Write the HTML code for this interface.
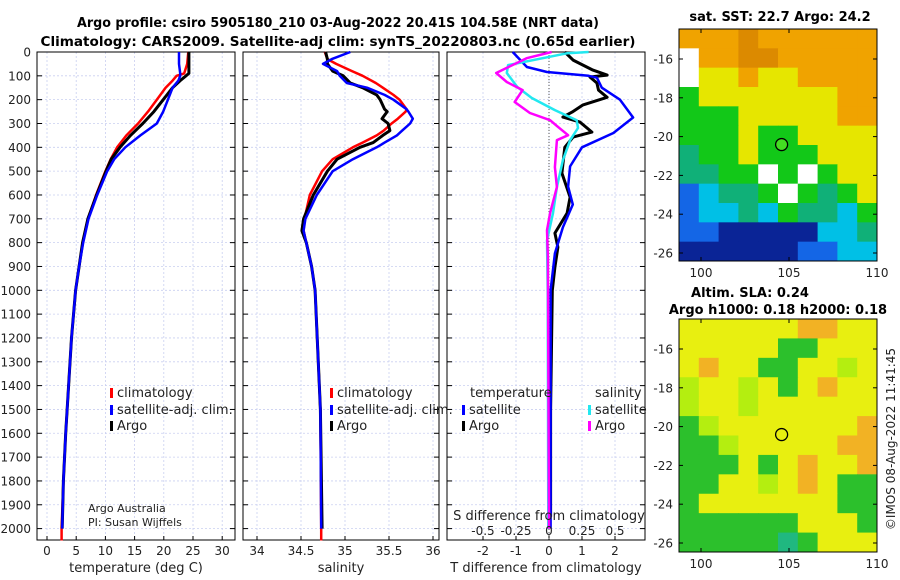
<!DOCTYPE html>
<html><head><meta charset="utf-8"><style>
html,body{margin:0;padding:0;background:#fff;width:900px;height:580px;overflow:hidden}
svg{display:block;font-family:"DejaVu Sans","Liberation Sans",sans-serif}
</style></head><body>
<svg id="fig" width="900" height="580" viewBox="0 0 900 580" xmlns="http://www.w3.org/2000/svg">
<g font-weight="bold" font-size="13" text-anchor="middle" fill="#000">
<text x="338" y="27" textLength="522" lengthAdjust="spacingAndGlyphs">Argo profile: csiro 5905180_210 03-Aug-2022 20.41S 104.58E (NRT data)</text>
<text x="338" y="46" textLength="595" lengthAdjust="spacingAndGlyphs">Climatology: CARS2009. Satellite-adj clim: synTS_20220803.nc (0.65d earlier)</text>
</g>
<g id="layer"></g>
</svg>
<script>
// ---------- data ----------
const depthT = [0,50,90,100,120,150,200,250,300,350,400,450,500,600,700,800,900,1000,1200,1400,1600,1800,2000];
const tClim  = [24.2,24,23.5,22.2,21.5,20.3,18.8,17.3,15.6,13.6,12,10.9,10,8.4,7,6.1,5.5,4.9,4.2,3.7,3.2,2.8,2.5];
const tSat   = [22.6,22.6,22.8,22.8,22.5,21.5,20.7,19.9,18.8,16,13.4,11.5,10.3,8.6,7.1,6.2,5.5,4.9,4.2,3.7,3.2,2.8,2.6];
const tArgo  = [24.3,24.3,24.3,23.8,22.8,21.5,19.9,18.3,16.4,14.3,12.5,11,10.1,8.5,7,6.1,5.5,4.9,4.2,3.7,3.2,2.8,2.6];
const depthS = [0,30,50,80,100,130,150,180,200,240,250,280,300,330,350,380,400,450,500,600,700,750,800,900,1000,1500,2000];
const sClim  = [34.77,34.8,34.9,35.08,35.2,35.35,35.43,35.55,35.62,35.7,35.69,35.6,35.53,35.44,35.36,35.2,35.09,34.86,34.74,34.6,34.54,34.53,34.56,34.62,34.66,34.72,34.73];
const sSat   = [35.06,34.85,34.75,34.91,34.94,35.02,35.25,35.45,35.55,35.7,35.72,35.77,35.74,35.65,35.59,35.45,35.36,35.09,34.86,34.68,34.55,34.53,34.56,34.62,34.66,34.72,34.73];
const sArgo  = [34.78,34.8,34.8,34.86,34.98,35.06,35.2,35.36,35.4,35.45,35.48,35.42,35.49,35.51,35.43,35.32,35.17,34.91,34.8,34.64,34.53,34.51,34.56,34.62,34.66,34.72,34.74];
const depthDTsat = [0,63,84,100,108,150,200,275,340,400,480,565,640,735,845,1000,2000];
const dTsat      = [-1.1,-0.67,-0.06,1.2,1.45,1.6,2.15,2.55,1.95,1.0,0.64,0.58,0.72,0.42,0.18,0.05,0.05];
const depthDTargo = [0,34,76,97,105,130,160,190,222,252,273,294,336,357,400,508,609,676,760,819,903,1000,1500,1950];
const dTargo      = [0.48,0.73,1.33,1.76,1.24,1.45,1.5,1.76,1.03,0.7,0.42,0.94,1.3,0.73,0.48,0.39,0.64,0.55,0.18,0.27,0.18,0.1,0.05,0.05];
const depthDSsat = [0,5,55,88,147,193,244,286,319,370,454,567,676,790,1000,2000];
const dSsat      = [0.3,0.14,-0.31,-0.32,-0.24,-0.13,0.045,0.21,0.22,0.16,0.105,0.06,0.03,-0.015,-0.01,-0.005];
const depthDSargo = [0,26,88,126,160,210,256,286,315,349,370,483,567,676,748,861,2000];
const dSargo      = [0.02,-0.17,-0.4,-0.32,-0.2,-0.26,-0.145,0.008,0.07,0.145,0.06,0.045,0.06,0.008,-0.015,-0.008,0.0];
const depthTicks = [0,100,200,300,400,500,600,700,800,900,1000,1100,1200,1300,1400,1500,1600,1700,1800,1900,2000];
const tTicks = [0,5,10,15,20,25,30];
const sTicks = [34,34.5,35,35.5,36];
const sTickLabels = ["34","34.5","35","35.5","36"];
const dTticks = [-2,-1,0,1,2];
const dSticks = [-0.5,-0.25,0,0.25,0.5];
const dSlabels = ["-0.5","-0.25","0","0.25","0.5"];
const latTicks = [-16,-18,-20,-22,-24,-26];
const lonTicks = [100,105,110];
const argoLon = 104.58, argoLat = -20.41;
// coarse colour grids for maps
const sstGrid = [
"OOODOOOOOO","WOODDOOOOO","WYYOYYOOOO","GYYYYYYYOO","GGGYYYYYOO","GGGYGGYYYY",
"TGGYGGGYYY","TTGGWGWGYY","BCTTGWGTGY","BCCTCGTTCG","BBDDDDDCCT","DDDDDDBBCC"];
const slaGrid = [
"YYYYYYOOYY","YYYYYGGYYY","YOYYGGYYLY","LYYLYGYOYY","LYYLYYYYYY","GLYYYYYYYO",
"GGLYYYYYOO","GGGYGYOYYO","GGYYLYOYGG","GYYYYYYYGG","GGGGGGYYYG","GGGGGTGYYY"];
const sstColors = {O:"#f0a300",D:"#d98400",Y:"#e6e600",G:"#12c818",T:"#10b078",C:"#00c0e6",B:"#1466e6",W:"#ffffff",K:"#0a1e9a"};
sstColors.D = "#dc8a00";
const sstDeep = "#0a2496";
const slaColors = {Y:"#e8ef10",O:"#f2b224",G:"#2cc02c",T:"#20b880",L:"#b4ee10"};

// ---------- scales ----------
const NS = "http://www.w3.org/2000/svg";
const layer = document.getElementById('layer');
const top0 = 52, bot0 = 540;
function yD(d){ return top0 + d*0.2383; }
function xT(v){ return 47 + v*5.84; }
function xS(v){ return 257 + (v-34)*88; }
function xDT(v){ return 549 + v*33; }
function xDS(v){ return 549 + v*132; }
function mk(tag, attrs, parent){ const e=document.createElementNS(NS,tag); for(const k in attrs) e.setAttribute(k,attrs[k]); (parent||layer).appendChild(e); return e; }
function txt(s,x,y,size,anchor,parent,extra){ const t=mk('text',Object.assign({x:x,y:y,'font-size':size,'text-anchor':anchor||'middle',fill:'#222'},extra||{}),parent); t.textContent=s; return t; }

const panels = [
 {name:'temperature-panel', x0:37, x1:235, ticks:tTicks, labels:tTicks.map(String), fx:xT, xlabel:'temperature (deg C)'},
 {name:'salinity-panel', x0:243, x1:439, ticks:sTicks, labels:sTickLabels, fx:xS, xlabel:'salinity'},
 {name:'difference-panel', x0:447, x1:645, ticks:dTticks, labels:dTticks.map(String), fx:xDT, xlabel:'T difference from climatology'}
];
panels.forEach((p,pi)=>{
  const g = mk('g',{});
  
  
  // grid
  depthTicks.forEach(d=>{ mk('line',{x1:p.x0,x2:p.x1,y1:yD(d),y2:yD(d),stroke:'#c9cff0','stroke-width':0.8,'stroke-dasharray':'2,2'},g); });
  p.ticks.forEach((v,i)=>{ const x=p.fx(v); mk('line',{x1:x,x2:x,y1:top0,y2:bot0,stroke:'#c9cff0','stroke-width':0.8,'stroke-dasharray':'2,2'},g);
    mk('line',{x1:x,x2:x,y1:bot0,y2:bot0-4,stroke:'#000'},g);
    txt(p.labels[i],x,555,12,'middle',g); });
  depthTicks.forEach(d=>{ mk('line',{x1:p.x0,x2:p.x0+5,y1:yD(d),y2:yD(d),stroke:'#000'},g); mk('line',{x1:p.x1,x2:p.x1-5,y1:yD(d),y2:yD(d),stroke:'#000'},g); if(pi===0) txt(String(d),31,yD(d)+4.5,12,'end',g); });
  mk('rect',{x:p.x0,y:top0,width:p.x1-p.x0,height:bot0-top0,fill:'none',stroke:'#000','stroke-width':1},g);
  const xl = txt(p.xlabel,(p.x0+p.x1)/2,572,13,'middle',g);
  
  
});
// zero dotted line in diff panel
mk('line',{x1:549,x2:549,y1:top0,y2:bot0,stroke:'#555','stroke-width':1,'stroke-dasharray':'1,2'});

function series(name, depths, vals, fx, color, w, extendTo){
  let pts = depths.map((d,i)=>fx(vals[i]).toFixed(1)+','+yD(d).toFixed(1));
  if(extendTo) pts.push(fx(vals[vals.length-1]).toFixed(1)+','+yD(extendTo).toFixed(1));
  const l = mk('polyline',{points:pts.join(' '),fill:'none',stroke:color,'stroke-width':w,'stroke-linejoin':'round'});
  
  
}
series('temperature-climatology-line', depthT, tClim, xT, '#ff0000', 2.5, 2050);
series('temperature-argo-line', depthT, tArgo, xT, '#000', 3);
series('temperature-satellite-line', depthT, tSat, xT, '#0000ff', 2.5);
series('salinity-climatology-line', depthS, sClim, xS, '#ff0000', 2.5, 2050);
series('salinity-argo-line', depthS, sArgo, xS, '#000', 3);
series('salinity-satellite-line', depthS, sSat, xS, '#0000ff', 2.5);
series('t-diff-argo-line', depthDTargo, dTargo, xDT, '#000', 3);
series('t-diff-satellite-line', depthDTsat, dTsat, xDT, '#0000ff', 2.5);
series('s-diff-satellite-line', depthDSsat, dSsat, xDS, '#22e8f0', 2.5);
series('s-diff-argo-line', depthDSargo, dSargo, xDS, '#ff00ff', 2.5);

// S axis inside diff panel
const sAx = mk('g',{});


txt('S difference from climatology',549,520,13,'middle',sAx);
dSticks.forEach((v,i)=>txt(dSlabels[i],xDS(v),535,12,'middle',sAx));

// legends
function legendEntry(name,x,y,color,label,parent){
  const g = mk('g',{},parent);
  
  
  if(color) mk('rect',{x:x,y:y-9,width:3,height:10,fill:color},g);
  txt(label,x+(color?7:0),y,13,'start',g);
}
const lg1 = mk('g',{});  
legendEntry('legend-climatology',110,397,'#ff0000','climatology',lg1);
legendEntry('legend-satellite-adj',110,414,'#0000ff','satellite-adj. clim.',lg1);
legendEntry('legend-argo',110,430,'#000','Argo',lg1);
const lg2 = mk('g',{});  
legendEntry('legend-climatology',330,397,'#ff0000','climatology',lg2);
legendEntry('legend-satellite-adj',330,414,'#0000ff','satellite-adj. clim.',lg2);
legendEntry('legend-argo',330,430,'#000','Argo',lg2);
const lg3 = mk('g',{});  
legendEntry('legend-temperature-heading',470,397,null,'temperature',lg3);
legendEntry('legend-t-satellite',462,414,'#0000ff','satellite',lg3);
legendEntry('legend-t-argo',462,430,'#000','Argo',lg3);
legendEntry('legend-salinity-heading',595,397,null,'salinity',lg3);
legendEntry('legend-s-satellite',588,414,'#22e8f0','satellite',lg3);
legendEntry('legend-s-argo',588,430,'#ff00ff','Argo',lg3);
const cr = mk('g',{});  
txt('Argo Australia',88,512,11,'start',cr); txt('PI: Susan Wijffels',88,526,11,'start',cr);

// maps
function drawMap(name, mx0, my0, mx1, my1, grid, colors, title, lat16y, lat26y, filled){
  const g = mk('g',{});
  
  
  const rows = grid.length, cols = grid[0].length;
  const cw=(mx1-mx0)/cols, ch=(my1-my0)/rows;
  for(let r=0;r<rows;r++) for(let c=0;c<cols;c++){
    const k=grid[r][c]; let col = colors[k];
    if(name==='sst-map' && k==='D') col = (r>=9)? sstDeep : colors[k];
    mk('rect',{x:mx0+c*cw,y:my0+r*ch,width:cw+0.5,height:ch+0.5,fill:col},g);
  }
  mk('rect',{x:mx0,y:my0,width:mx1-mx0,height:my1-my0,fill:'none',stroke:'#000'},g);
  const latY = v => lat16y + (-16 - v)*(lat26y-lat16y)/10;
  const lonX = v => 701 + (v-100)*17.6;
  latTicks.forEach(v=>{ const y=latY(v); mk('line',{x1:mx0,x2:mx0+4,y1:y,y2:y,stroke:'#000'},g); mk('line',{x1:mx1,x2:mx1-4,y1:y,y2:y,stroke:'#000'},g); txt(String(v),673,y+4.5,12,'end',g); });
  lonTicks.forEach(v=>{ const x=lonX(v); mk('line',{x1:x,x2:x,y1:my1,y2:my1-4,stroke:'#000'},g); mk('line',{x1:x,x2:x,y1:my0,y2:my0+4,stroke:'#000'},g); txt(String(v),x,my1+16,12,'middle',g); });
  const m = mk('circle',{cx:lonX(argoLon),cy:latY(argoLat),r:6,fill:filled?'#44dd22':'none',stroke:'#000','stroke-width':1.3},g);
  
  
  title.forEach(t=>{ const e=txt(t[0],t[1],t[2],13,'middle',g,{'font-weight':'bold',fill:'#000'}); });
}
drawMap('sst-map',679,29,877,261,sstGrid,sstColors,[['sat. SST: 22.7 Argo: 24.2',780,21]],59,253,true);
drawMap('sla-map',679,319,877,552,slaGrid,slaColors,[['Altim. SLA: 0.24',750,297],['Argo h1000: 0.18 h2000: 0.18',778,314]],349,543,false);
const stamp = txt('©IMOS 08-Aug-2022 11:41:45',0,0,12,'middle',layer,{transform:'translate(895,439) rotate(-90)'});


</script>
</body></html>
